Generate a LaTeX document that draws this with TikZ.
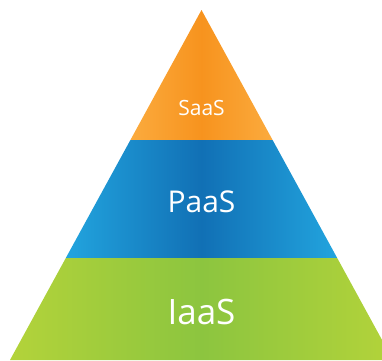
\documentclass[tikz,border=0pt]{standalone}
\usepackage{fontspec}
\setmainfont{Open Sans}
\definecolor{orangeE}{HTML}{FBAB3E}
\definecolor{orangeM}{HTML}{F7931E}
\definecolor{blueE}{HTML}{22A4DE}
\definecolor{blueM}{HTML}{1170B5}
\definecolor{greenE}{HTML}{B3D33A}
\definecolor{greenM}{HTML}{8CC53F}
\tikzset{
  lbl/.style={text=white, inner sep=0pt, anchor=center},
}
\begin{document}
\begin{tikzpicture}[x=1pt,y=-1pt]
\useasboundingbox (0,0) rectangle (382,360);
\clip (0,0) rectangle (382,360);
\coordinate (apex) at (201.5,10);
\coordinate (l1) at (130.4,140);
\coordinate (r1) at (272.6,140);
\coordinate (l2) at (65.8,258);
\coordinate (r2) at (337.2,258);
\coordinate (l3) at (10,360);
\coordinate (r3) at (393,360);
\shade[left color=orangeE, right color=orangeE, middle color=orangeM] (apex) -- (r1) -- (l1) -- cycle;
\shade[left color=blueE, right color=blueE, middle color=blueM] (l1) -- (r1) -- (r2) -- (l2) -- cycle;
\shade[left color=greenE, right color=greenE, middle color=greenM] (l2) -- (r2) -- (r3) -- (l3) -- cycle;
\node[lbl, font=\fontsize{21}{24}\selectfont] (saas) at (201.5,108) {SaaS};
\node[lbl, font=\fontsize{30}{36}\selectfont] (paas) at (201.5,202) {PaaS};
\node[lbl, font=\fontsize{35}{42}\selectfont] (iaas) at (201.5,312) {IaaS};
\end{tikzpicture}
\end{document}
